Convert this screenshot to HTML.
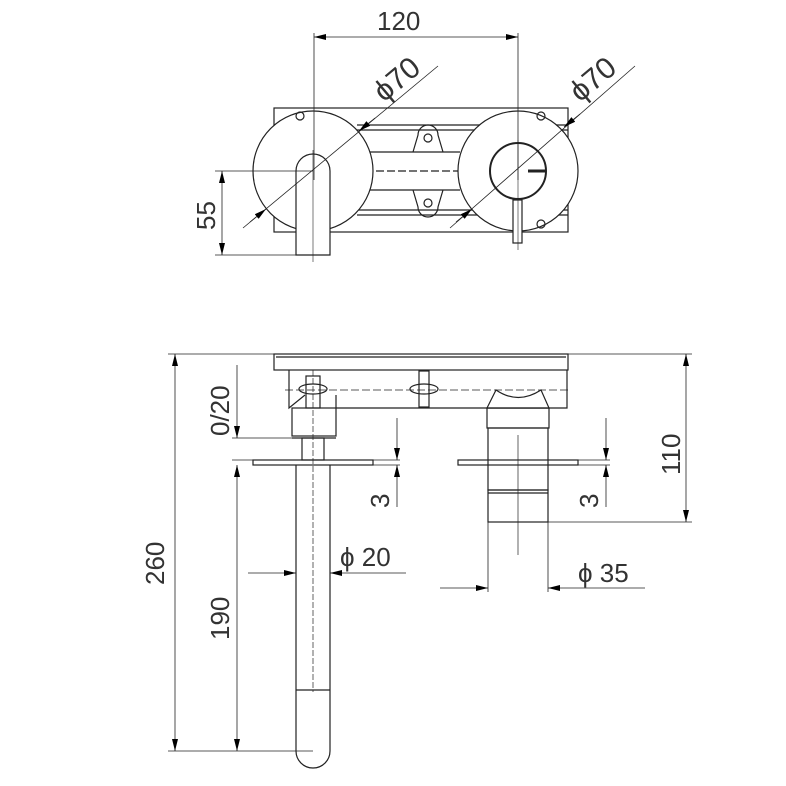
<!DOCTYPE html>
<html><head><meta charset="utf-8"><style>body{margin:0;background:#fff}svg{display:block}text{font-family:"Liberation Sans",sans-serif;fill:#333;font-weight:300}</style></head><body>
<svg width="786" height="786" viewBox="0 0 786 786" xmlns="http://www.w3.org/2000/svg">
<defs>
<marker id="a" viewBox="0 0 12 6" refX="12" refY="3" markerWidth="12" markerHeight="6" orient="auto-start-reverse" markerUnits="userSpaceOnUse"><path d="M0,0L12,3L0,6z" fill="#000"/></marker>
</defs>
<g fill="none" stroke="#222" stroke-width="1.2">
<rect x="274" y="108" width="294" height="124"/>
<line x1="357" y1="125" x2="568" y2="125"/><line x1="357" y1="130" x2="568" y2="130"/>
<line x1="357" y1="210" x2="568" y2="210"/><line x1="357" y1="215" x2="568" y2="215"/>
<line x1="370" y1="152" x2="460" y2="152"/><line x1="370" y1="190" x2="460" y2="190"/>
<line x1="365" y1="171" x2="480" y2="171" stroke-dasharray="8 3"/>
<circle cx="313" cy="171" r="60" fill="#fff"/>
<circle cx="518" cy="171" r="60" fill="#fff"/>
<circle cx="518" cy="171" r="28" stroke-width="2"/>
<line x1="528" y1="171" x2="546" y2="171" stroke-width="3"/>
<path d="M296,255V171A17,17 0 0 1 330,171V255Z" fill="#fff"/>
<rect x="513" y="200" width="9" height="43" fill="#fff"/>
<circle cx="300" cy="116" r="4"/>
<circle cx="541" cy="116" r="4"/><circle cx="541" cy="224" r="4"/>
<path d="M413,152L418,135A10,10 0 0 1 438,135L443,152"/>
<circle cx="428" cy="138" r="4"/>
<path d="M413,190L418,207A10,10 0 0 0 438,207L443,190"/>
<circle cx="428" cy="203" r="4"/>
<line x1="314" y1="33" x2="314" y2="180" stroke-width="0.8"/>
<line x1="518" y1="33" x2="518" y2="180" stroke-width="0.8"/>
<line x1="314" y1="37" x2="518" y2="37" stroke-width="0.8" marker-start="url(#a)" marker-end="url(#a)"/>
<line x1="243" y1="228" x2="438" y2="66" stroke-width="0.8"/>
<line x1="450" y1="228" x2="635" y2="66" stroke-width="0.8"/>
<line x1="250" y1="222" x2="266" y2="209" stroke-width="0.8" marker-end="url(#a)"/>
<line x1="375" y1="118" x2="359" y2="131" stroke-width="0.8" marker-end="url(#a)"/>
<line x1="456" y1="222" x2="472" y2="209" stroke-width="0.8" marker-end="url(#a)"/>
<line x1="580" y1="114" x2="564" y2="127" stroke-width="0.8" marker-end="url(#a)"/>
<line x1="215" y1="171" x2="313" y2="171" stroke-width="0.8"/>
<line x1="215" y1="255" x2="330" y2="255" stroke-width="0.8"/>
<line x1="222" y1="171" x2="222" y2="255" stroke-width="0.8" marker-start="url(#a)" marker-end="url(#a)"/>
<line x1="313" y1="150" x2="313" y2="262" stroke-width="0.6"/>
<line x1="518" y1="140" x2="518" y2="250" stroke-width="0.6"/>

<line x1="168" y1="354" x2="692" y2="354" stroke-width="0.8"/>
<rect x="274" y="354" width="294" height="16"/>
<line x1="276" y1="357" x2="566" y2="357"/>
<path d="M289,370V408L305,395M336,395L336,408H567V370"/>
<line x1="285" y1="390" x2="568" y2="390" stroke-dasharray="8 3" stroke-width="0.8"/>
<rect x="292" y="408" width="44" height="28"/>
<line x1="292" y1="438" x2="336" y2="438"/>
<rect x="302" y="438" width="22" height="22"/>
<rect x="253" y="460" width="120" height="5"/>
<path d="M296,465V751A17,17 0 0 0 330,751V465"/>
<line x1="296" y1="690" x2="330" y2="690"/>
<line x1="313" y1="370" x2="313" y2="692" stroke-dasharray="6 2" stroke-width="0.7"/>
<rect x="306" y="376" width="14" height="32"/>
<ellipse cx="313" cy="389" rx="14" ry="5"/>
<rect x="419" y="371" width="10" height="36"/>
<ellipse cx="424" cy="389" rx="14" ry="5"/>
<path d="M496,390Q518,405 541,390L549,408H487Z" fill="#fff"/>
<rect x="487" y="408" width="62" height="20"/>
<rect x="488" y="428" width="60" height="62"/>
<line x1="488" y1="493" x2="548" y2="493"/>
<rect x="488" y="490" width="60" height="32"/>
<line x1="488" y1="522" x2="488" y2="592" stroke-width="0.8"/>
<line x1="548" y1="522" x2="548" y2="592" stroke-width="0.8"/>
<rect x="458" y="460" width="120" height="5"/>
<line x1="518" y1="435" x2="518" y2="555" stroke-width="0.7"/>
<line x1="175" y1="354" x2="175" y2="751" stroke-width="0.8" marker-start="url(#a)" marker-end="url(#a)"/>
<line x1="168" y1="751" x2="313" y2="751" stroke-width="0.8"/>
<line x1="237" y1="465" x2="237" y2="751" stroke-width="0.8" marker-start="url(#a)" marker-end="url(#a)"/>
<line x1="232" y1="460" x2="400" y2="460" stroke-width="0.8"/>
<line x1="232" y1="438" x2="292" y2="438" stroke-width="0.8"/>
<line x1="237" y1="365" x2="237" y2="438" stroke-width="0.8" marker-end="url(#a)"/>
<line x1="397" y1="418" x2="397" y2="460" stroke-width="0.8" marker-end="url(#a)"/>
<line x1="397" y1="465" x2="397" y2="507" stroke-width="0.8" marker-start="url(#a)"/>
<line x1="373" y1="465" x2="400" y2="465" stroke-width="0.8"/>
<line x1="606" y1="418" x2="606" y2="460" stroke-width="0.8" marker-end="url(#a)"/>
<line x1="606" y1="465" x2="606" y2="507" stroke-width="0.8" marker-start="url(#a)"/>
<line x1="578" y1="460" x2="610" y2="460" stroke-width="0.8"/>
<line x1="578" y1="465" x2="610" y2="465" stroke-width="0.8"/>
<line x1="686" y1="354" x2="686" y2="522" stroke-width="0.8" marker-start="url(#a)" marker-end="url(#a)"/>
<line x1="548" y1="522" x2="692" y2="522" stroke-width="0.8"/>
<line x1="248" y1="573" x2="296" y2="573" stroke-width="0.8" marker-end="url(#a)"/>
<line x1="330" y1="573" x2="406" y2="573" stroke-width="0.8" marker-start="url(#a)"/>
<line x1="440" y1="588" x2="488" y2="588" stroke-width="0.8" marker-end="url(#a)"/>
<line x1="548" y1="588" x2="645" y2="588" stroke-width="0.8" marker-start="url(#a)"/>
</g>
<g font-size="26">
<text x="377" y="30">120</text>
<text font-size="30" transform="translate(384,103) rotate(-40)">ϕ70</text>
<text font-size="30" transform="translate(580,103) rotate(-40)">ϕ70</text>
<text transform="translate(215,230) rotate(-90)">55</text>
<text transform="translate(164,585) rotate(-90)">260</text>
<text transform="translate(229,640) rotate(-90)">190</text>
<text transform="translate(229,436) rotate(-90)">0/20</text>
<text transform="translate(680,475) rotate(-90)">110</text>
<text transform="translate(389,508) rotate(-90)">3</text>
<text transform="translate(598,508) rotate(-90)">3</text>
<text x="340" y="566">ϕ 20</text>
<text x="578" y="582">ϕ 35</text>
</g>
</svg>
</body></html>
